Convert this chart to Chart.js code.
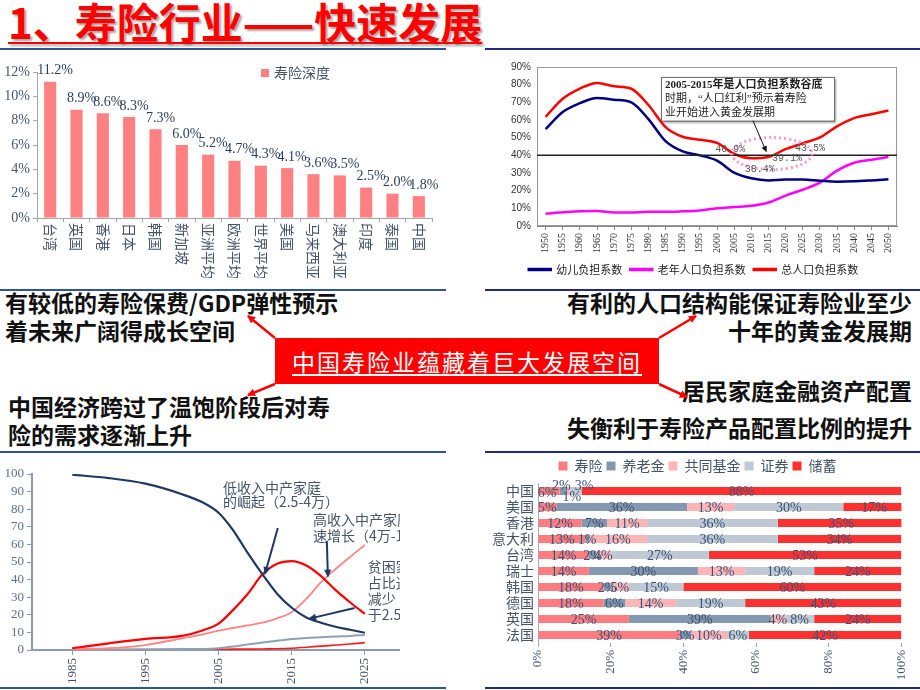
<!DOCTYPE html>
<html>
<head>
<meta charset="utf-8">
<script src="https://cdn.jsdelivr.net/npm/chart.js@4.4.1/dist/chart.umd.min.js"></script>
<style>
body{margin:0;width:920px;height:690px;overflow:hidden;background:#fff;position:relative;font-family:"Noto Sans CJK SC",sans-serif;}
canvas{position:absolute;}
.rule{position:absolute;height:2px;}
.note{position:absolute;font-weight:bold;font-size:23px;line-height:28px;color:#111;white-space:nowrap;}
#title{position:absolute;left:8px;top:-5px;font-size:42px;line-height:52px;font-weight:bold;color:#ff0000;
  text-decoration:underline;text-decoration-thickness:2px;text-underline-offset:3px;text-shadow:2px 2px 2px rgba(0,0,0,.35);white-space:nowrap;}
#hub{position:absolute;left:275px;top:338px;width:384px;height:46px;background:#ff0000;color:#fff;
  font-size:23px;line-height:46px;text-align:center;letter-spacing:2px;text-decoration:underline;text-underline-offset:3px;white-space:nowrap;}
svg{position:absolute;left:0;top:0;}
</style>
</head>
<body>
<div id="title">1、寿险行业——快速发展</div>

<div class="rule" style="left:0;top:48px;width:446px;background:#2f5597"></div>
<div class="rule" style="left:485px;top:48px;width:435px;background:#1f2a80"></div>
<div class="rule" style="left:0;top:289px;width:446px;background:#2f5597"></div>
<div class="rule" style="left:485px;top:289px;width:435px;background:#1f2a80"></div>
<div class="rule" style="left:0;top:451px;width:446px;background:#2f5597"></div>
<div class="rule" style="left:485px;top:451px;width:435px;background:#1f2a80"></div>
<div class="rule" style="left:0;top:687px;width:446px;background:#2f5597"></div>
<div class="rule" style="left:485px;top:687px;width:435px;background:#1f2a80"></div>

<canvas id="depthChart" width="460" height="230" style="left:0;top:55px"></canvas>
<canvas id="ratioChart" width="430" height="230" style="left:490px;top:55px"></canvas>
<canvas id="incomeChart" width="400" height="235" style="left:0;top:455px"></canvas>
<canvas id="allocChart" width="430" height="235" style="left:490px;top:455px"></canvas>

<div class="note" style="left:5px;top:288px">有较低的寿险保费/GDP弹性预示<br>着未来广阔得成长空间</div>
<div class="note" style="right:8px;top:288px;text-align:right">有利的人口结构能保证寿险业至少<br>十年的黄金发展期</div>
<div class="note" style="left:8px;top:392px">中国经济跨过了温饱阶段后对寿<br>险的需求逐渐上升</div>
<div class="note" style="right:8px;top:376px;text-align:right">居民家庭金融资产配置</div>
<div class="note" style="right:8px;top:413px;text-align:right">失衡利于寿险产品配置比例的提升</div>

<div id="hub">中国寿险业蕴藏着巨大发展空间</div>

<svg width="920" height="690">
  <defs>
    <marker id="rh" markerWidth="8" markerHeight="8" refX="7" refY="4" orient="auto" markerUnits="userSpaceOnUse">
      <path d="M0,0 L8,4 L0,8 z" fill="#ff0000"/>
    </marker>
  </defs>
  <g stroke="#ff0000" stroke-width="2.5" marker-end="url(#rh)">
    <line x1="275" y1="338" x2="248" y2="316"/>
    <line x1="275" y1="384" x2="248" y2="395"/>
    <line x1="659" y1="338" x2="696" y2="316"/>
    <line x1="659" y1="384" x2="687" y2="397"/>
  </g>
</svg>

<script>
// ---- 寿险深度 ----
const depthLabels = ['台湾','英国','香港','日本','韩国','新加坡','亚洲平均','欧洲平均','世界平均','美国','马来西亚','澳大利亚','印度','泰国','中国'];
const depthValues = [11.2, 8.9, 8.6, 8.3, 7.3, 6.0, 5.2, 4.7, 4.3, 4.1, 3.6, 3.5, 2.5, 2.0, 1.8];

// ---- 人口负担系数 ----
const ratioYears = ['1950','1955','1960','1965','1970','1975','1980','1985','1990','1995','2000',
                    '2005','2010','2015','2020','2025','2030','2035','2040','2045','2050'];
const childRatio = [54.8, 64.5, 69.5, 72.5, 71.5, 70, 60.5, 48, 42.2, 40, 37, 30.2, 27, 25.8, 26.3, 26.3, 25.6, 25.1, 25.3, 25.8, 26.4];
const elderRatio = [7, 7.8, 8.3, 8.5, 7.6, 7.7, 8, 8, 8.3, 8.8, 10, 10.7, 11.4, 13.3, 17.2, 20.5, 24.5, 31.3, 35.8, 37.5, 39];
const totalRatio = [61.8, 72, 77.8, 81, 79.1, 77.7, 68.5, 56, 50.5, 48.8, 47, 40.9, 38.4, 39.1, 43.5, 46.8, 50.1, 56.4, 61.1, 63.3, 65.4];
const ratioTicks = [0, 10, 20, 30, 40, 50, 60, 70, 80, 90];

// ---- 家庭收入结构 ----
const incomeYears  = [1985, 1990, 1995, 2000, 2003, 2005, 2007, 2009, 2011, 2013, 2015, 2017, 2019, 2021, 2023, 2025];
const poorShare    = [99.6, 97.7, 94.5, 88.5, 83.5, 78, 68, 55, 43, 32, 24, 18.5, 15.5, 13.2, 11.5, 9.8];
const lowMidShare  = [1, 3.8, 6.3, 8, 11.4, 15, 22.8, 32, 43, 49, 50.5, 48, 42, 34, 27, 20.5];
const highMidShare = [0.4, 1, 2.8, 6.6, 9, 11, 12.5, 14, 15.5, 18, 21.5, 29, 38.5, 46, 53, 59.7];
const richShare    = [0, 0.2, 0.3, 0.5, 0.6, 1, 2, 3.2, 4.2, 5.2, 6.2, 6.8, 7.3, 7.7, 8, 8.5];
const topShare     = [0.1, 0.2, 0.3, 0.3, 0.4, 0.4, 0.5, 0.5, 0.6, 0.7, 1, 1.6, 2.2, 2.8, 3.4, 4.2];
const incomeTicks  = [1985, 1995, 2005, 2015, 2025];
const shareTicks   = [0, 10, 20, 30, 40, 50, 60, 70, 80, 90, 100];

// ---- 家庭金融资产配置 ----
const allocCountries = ['中国','美国','香港','意大利','台湾','瑞士','韩国','德国','英国','法国'];
const lifeIns    = [6, 5, 12, 13, 14, 14, 18, 18, 25, 39];
const pension    = [2, 36, 7, 1, 2, 30, 2, 6, 39, 3];
const mutualFund = [1, 13, 11, 16, 4, 13, 5, 14, 4, 10];
const securities = [3, 30, 36, 36, 27, 19, 15, 19, 8, 6];
const savings    = [88, 17, 35, 34, 53, 24, 60, 43, 24, 42];
const allocTicks = [0, 20, 40, 60, 80, 100];

const SERIF = '"Liberation Serif","Noto Sans CJK SC",serif';
const CJK = '"Noto Sans CJK SC",sans-serif';
const INK = '#44546a';

function arrow(ctx, x1, y1, x2, y2, color, w, head) {
  const a = Math.atan2(y2 - y1, x2 - x1);
  ctx.save();
  ctx.strokeStyle = color; ctx.fillStyle = color; ctx.lineWidth = w;
  ctx.beginPath(); ctx.moveTo(x1, y1);
  ctx.lineTo(x2 - Math.cos(a) * head * 0.8, y2 - Math.sin(a) * head * 0.8); ctx.stroke();
  ctx.beginPath(); ctx.moveTo(x2, y2);
  ctx.lineTo(x2 - head * Math.cos(a - 0.4), y2 - head * Math.sin(a - 0.4));
  ctx.lineTo(x2 - head * Math.cos(a + 0.4), y2 - head * Math.sin(a + 0.4));
  ctx.closePath(); ctx.fill();
  ctx.restore();
}

// === chart 1: bars ===
const depthDecor = {
  id: 'depthDecor',
  afterDatasetsDraw(chart) {
    const { ctx, chartArea, scales: { x } } = chart;
    const meta = chart.getDatasetMeta(0);
    ctx.save();
    ctx.fillStyle = '#2b3f5c';
    ctx.font = '14px ' + SERIF;
    ctx.textAlign = 'center'; ctx.textBaseline = 'bottom';
    meta.data.forEach((bar, i) => ctx.fillText(depthValues[i].toFixed(1) + '%', bar.x + 5, bar.y - 4));
    // vertical category labels, reading top-down
    ctx.font = '14px ' + CJK; ctx.fillStyle = INK;
    ctx.textAlign = 'left'; ctx.textBaseline = 'middle';
    depthLabels.forEach((lab, i) => {
      ctx.save();
      ctx.translate(x.getPixelForValue(i), chartArea.bottom + 5);
      ctx.rotate(Math.PI / 2);
      ctx.fillText(lab, 0, 0);
      ctx.restore();
    });
    // legend
    ctx.fillStyle = '#ff8080';
    ctx.fillRect(261, 14, 8, 8);
    ctx.fillStyle = INK; ctx.font = '14px ' + CJK;
    ctx.fillText('寿险深度', 274, 18);
    ctx.restore();
  }
};

new Chart(document.getElementById('depthChart'), {
  type: 'bar',
  data: { labels: depthLabels, datasets: [{ label: '寿险深度', data: depthValues, backgroundColor: '#ff8080', barPercentage: 0.46, categoryPercentage: 1 }] },
  options: {
    responsive: false, animation: false,
    layout: { padding: { top: 17, right: 28, left: 0, bottom: 0 } },
    plugins: { legend: { display: false }, tooltip: { enabled: false } },
    scales: {
      x: { ticks: { display: false }, grid: { display: true, drawOnChartArea: false, offset: true, tickLength: 4, color: '#a6a6a6' },
           border: { color: '#a6a6a6' }, afterFit: s => { s.height = 67; } },
      y: { min: 0, max: 12, ticks: { stepSize: 2, autoSkip: false, callback: v => v + '%', color: INK, font: { family: SERIF, size: 14 }, padding: 3 },
           grid: { drawOnChartArea: false, tickLength: 4, color: '#a6a6a6' }, border: { color: '#a6a6a6' },
           afterFit: s => { s.width = 37; } }
    }
  },
  plugins: [depthDecor]
});

// === chart 2: dependency ratio ===
const ratioDecor = {
  id: 'ratioDecor',
  afterDatasetsDraw(chart) {
    const { ctx, chartArea: a, scales: { x, y } } = chart;
    ctx.save();
    ctx.strokeStyle = '#9a9a9a'; ctx.lineWidth = 1;
    ctx.strokeRect(a.left + 0.5, a.top + 0.5, a.right - a.left - 1, a.bottom - a.top - 1);
    // 40% reference line
    const y40 = y.getPixelForValue(40);
    ctx.strokeStyle = '#222'; ctx.lineWidth = 1.5;
    ctx.beginPath(); ctx.moveTo(a.left, y40); ctx.lineTo(a.right, y40); ctx.stroke();
    // dotted ellipse round the trough
    ctx.strokeStyle = '#ff99cc'; ctx.lineWidth = 3; ctx.setLineDash([2, 3]);
    ctx.beginPath(); ctx.ellipse(x.getPixelForValue(13.2), y.getPixelForValue(41), 40, 16, 0, 0, Math.PI * 2); ctx.stroke();
    ctx.setLineDash([]);
    // value labels
    ctx.fillStyle = '#555'; ctx.font = '10px "Liberation Mono",monospace';
    ctx.textAlign = 'center'; ctx.textBaseline = 'middle';
    [[10.77, 43.3, 11], [12.5, 32, 12], [14.08, 38.2, 13], [15.42, 43.9, 14]].forEach(([i, v, k]) =>
      ctx.fillText(totalRatio[k].toFixed(1) + '%', x.getPixelForValue(i), y.getPixelForValue(v)));
    // call-out box
    const bx = x.getPixelForValue(6.73), by = y.getPixelForValue(84.4);
    const bw = x.getPixelForValue(16.83) - bx, bh = y.getPixelForValue(59.6) - by;
    ctx.shadowColor = 'rgba(0,0,0,.35)'; ctx.shadowOffsetX = 2; ctx.shadowOffsetY = 2; ctx.shadowBlur = 2;
    ctx.fillStyle = '#fff'; ctx.fillRect(bx, by, bw, bh);
    ctx.shadowColor = 'transparent';
    ctx.strokeStyle = '#666'; ctx.lineWidth = 1; ctx.strokeRect(bx + 0.5, by + 0.5, bw, bh);
    ctx.fillStyle = '#222'; ctx.textAlign = 'left';
    ctx.font = 'bold 11px ' + SERIF;
    ctx.fillText('2005-2015年是人口负担系数谷底', bx + 4, by + 8);
    ctx.font = '11px ' + SERIF;
    ctx.fillText('时期，“人口红利”预示着寿险', bx + 4, by + 22);
    ctx.fillText('业开始进入黄金发展期', bx + 4, by + 36);
    arrow(ctx, x.getPixelForValue(12.1), y.getPixelForValue(59.6), x.getPixelForValue(12.9), y.getPixelForValue(41.6), '#111', 1, 7);
    ctx.restore();
  }
};

const lineSet = (label, data, color) => ({ label, data, borderColor: color, backgroundColor: color, borderWidth: 2.5, pointRadius: 0, tension: 0.4, cubicInterpolationMode: 'monotone' });

new Chart(document.getElementById('ratioChart'), {
  type: 'line',
  data: { labels: ratioYears, datasets: [
    lineSet('幼儿负担系数', childRatio, '#000080'),
    lineSet('老年人口负担系数', elderRatio, '#ff00ff'),
    lineSet('总人口负担系数', totalRatio, '#ff0000')
  ] },
  options: {
    responsive: false, animation: false,
    layout: { padding: { top: 12, right: 23, left: 0, bottom: 0 } },
    plugins: {
      tooltip: { enabled: false },
      legend: { position: 'bottom', labels: { boxWidth: 22, boxHeight: 1, padding: 8, color: '#222', font: { family: CJK, size: 11 } } }
    },
    scales: {
      x: { offset: true, ticks: { minRotation: 90, maxRotation: 90, autoSkip: false, color: '#333', font: { family: SERIF, size: 10 } },
           grid: { drawOnChartArea: false, offset: false, tickLength: 4, color: '#888' }, border: { color: '#888' },
           afterFit: s => { s.height = 30; } },
      y: { min: 0, max: 90, afterBuildTicks: s => { s.ticks = ratioTicks.map(v => ({ value: v })); },
           ticks: { autoSkip: false, callback: v => v + '%', color: '#333', font: { family: '"Liberation Sans",sans-serif', size: 10 }, padding: 6 },
           grid: { drawOnChartArea: false, tickLength: 0, color: '#888' }, border: { color: '#888' },
           afterFit: s => { s.width = 47; } }
    }
  },
  plugins: [ratioDecor]
});

// === chart 3: income groups ===
const incomeDecor = {
  id: 'incomeDecor',
  afterDatasetsDraw(chart) {
    const { ctx, scales: { x, y } } = chart;
    const P = (yr, v) => [x.getPixelForValue(yr), y.getPixelForValue(v)];
    ctx.save();
    ctx.fillStyle = INK; ctx.font = '14px ' + CJK;
    ctx.textAlign = 'left'; ctx.textBaseline = 'middle';
    const notes = [
      [2005.6, 92, '低收入中产家庭'], [2005.6, 84, '的崛起（2.5-4万）'],
      [2017.9, 73.9, '高收入中产家庭迅'], [2017.9, 64.8, '速增长（4万-10万）'],
      [2025.4, 47.2, '贫困家庭'], [2025.4, 38, '占比迅速'], [2025.4, 29, '减少（低'], [2025.4, 19.9, '于2.5万）']
    ];
    notes.forEach(([yr, v, t]) => { const [px, py] = P(yr, v); ctx.fillText(t, px, py); });
    [[2013.1, 69.3, 2011.3, 42.5], [2019.8, 62, 2019.95, 41], [2023.6, 23.9, 2017.2, 17.6]].forEach(([a, b, c, d]) => {
      const [x1, y1] = P(a, b), [x2, y2] = P(c, d);
      arrow(ctx, x1, y1, x2, y2, '#1f3864', 2, 9);
    });
    ctx.restore();
  }
};

const incomeSet = (label, vals, color, w) => ({
  label, data: incomeYears.map((yr, i) => ({ x: yr, y: vals[i] })),
  borderColor: color, borderWidth: w, pointRadius: 0, tension: 0.4, cubicInterpolationMode: 'monotone'
});

new Chart(document.getElementById('incomeChart'), {
  type: 'line',
  data: { datasets: [
    incomeSet('贫困家庭', poorShare, '#1f3864', 2.2),
    incomeSet('低收入中产家庭', lowMidShare, '#ff0000', 2.2),
    incomeSet('高收入中产家庭', highMidShare, '#ff8585', 1.8),
    incomeSet('富裕家庭', richShare, '#8ea0b4', 2),
    incomeSet('高净值家庭', topShare, '#ff1a1a', 1.6)
  ] },
  options: {
    responsive: false, animation: false,
    layout: { padding: { top: 19, right: 0, left: 0, bottom: 0 } },
    plugins: { legend: { display: false }, tooltip: { enabled: false } },
    scales: {
      x: { type: 'linear', min: 1979.5, max: 2029.8,
           afterBuildTicks: s => { s.ticks = incomeTicks.map(v => ({ value: v })); },
           ticks: { autoSkip: false, minRotation: 90, maxRotation: 90, callback: v => String(v), color: INK, font: { family: SERIF, size: 13 } },
           grid: { drawOnChartArea: false, tickLength: 5, color: '#8a9bb0' }, border: { color: '#8a9bb0', width: 2 },
           afterFit: s => { s.height = 40; } },
      y: { min: 0, max: 100, afterBuildTicks: s => { s.ticks = shareTicks.map(v => ({ value: v })); },
           ticks: { autoSkip: false, color: '#5a7090', font: { family: SERIF, size: 13 }, padding: 3 },
           grid: { drawOnChartArea: false, tickLength: 5, color: '#8a9bb0' }, border: { color: '#8a9bb0', width: 2 },
           afterFit: s => { s.width = 32; } }
    }
  },
  plugins: [incomeDecor]
});

// === chart 4: asset allocation ===
const allocSeries = [lifeIns, pension, mutualFund, securities, savings];
const chinaNudge = [[-2, 1], [-2, -6], [3, 5], [8, -6], [0, 0]];
const allocDecor = {
  id: 'allocDecor',
  afterDatasetsDraw(chart) {
    const { ctx } = chart;
    ctx.save();
    ctx.fillStyle = '#3b5374'; ctx.font = '14px ' + SERIF;
    ctx.textAlign = 'center'; ctx.textBaseline = 'middle';
    allocSeries.forEach((vals, d) => {
      chart.getDatasetMeta(d).data.forEach((bar, i) => {
        const nx = i === 0 ? chinaNudge[d][0] : 0, ny = i === 0 ? chinaNudge[d][1] : 0;
        ctx.fillText(vals[i] + '%', (bar.x + bar.base) / 2 + nx, bar.y + 1 + ny);
      });
    });
    ctx.restore();
  }
};

const allocNames = ['寿险', '养老金', '共同基金', '证券', '储蓄'];
const allocColors = ['#ff7c80', '#8497b0', '#ffb4b6', '#bfc9d5', '#ff3030'];

new Chart(document.getElementById('allocChart'), {
  type: 'bar',
  data: { labels: allocCountries, datasets: allocSeries.map((vals, d) => ({
    label: allocNames[d], data: vals, backgroundColor: allocColors[d], barPercentage: 0.5, categoryPercentage: 1
  })) },
  options: {
    indexAxis: 'y', responsive: false, animation: false,
    layout: { padding: { top: 0, right: 15, left: 0, bottom: 0 } },
    plugins: {
      tooltip: { enabled: false },
      legend: { position: 'top', labels: { boxWidth: 9, boxHeight: 9, padding: 4, color: INK, font: { family: CJK, size: 14 } } }
    },
    scales: {
      x: { stacked: true, min: 0, max: 100, afterBuildTicks: s => { s.ticks = allocTicks.map(v => ({ value: v })); },
           ticks: { autoSkip: false, minRotation: 90, maxRotation: 90, callback: v => v + '%', color: INK, font: { family: SERIF, size: 13 } },
           grid: { drawOnChartArea: false, tickLength: 4, color: '#9aa8b8' }, border: { display: false },
           afterFit: s => { s.height = 47; } },
      y: { stacked: true, ticks: { autoSkip: false, color: INK, font: { family: CJK, size: 14 }, padding: 4 },
           grid: { drawOnChartArea: false, tickLength: 0, color: '#9aa8b8' }, border: { color: '#9aa8b8' },
           afterFit: s => { s.width = 48; } }
    }
  },
  plugins: [allocDecor]
});
</script>
</body>
</html>
